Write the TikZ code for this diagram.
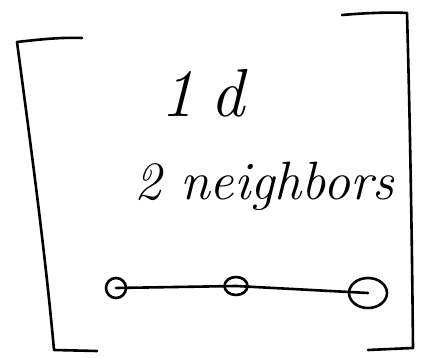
\documentclass[tikz,border=0pt]{standalone}
\usetikzlibrary{shapes.geometric}
\begin{document}
\begin{tikzpicture}[x=1pt,y=-1pt,
  ink/.style={line width=2.6pt,line cap=round,line join=round},
  vert/.style={draw,ink,inner sep=0pt},
  lbl/.style={inner sep=0pt,font=\itshape}]
\useasboundingbox (0,0) rectangle (421,358);
% left bracket
\draw[ink] (82,38) .. controls (60,37) and (35,40) .. (17,42)
  .. controls (30,140) and (45,250) .. (54,350) -- (97,351);
% right bracket
\draw[ink] (342,15) .. controls (365,13) and (390,12) .. (407,13)
  .. controls (410,120) and (412,240) .. (413,348) -- (368,350);
% text
\node[lbl,anchor=base west,font=\itshape\fontsize{68}{72}\selectfont] (t1) at (160,117) {1\kern16pt d};
\node[lbl,anchor=base west,font=\itshape\fontsize{54}{58}\selectfont] (t2) at (134,200) {2 neighbors};
% graph
\node[vert,circle,minimum size=20pt] (n1) at (116,288) {};
\node[vert,ellipse,minimum width=23pt,minimum height=18pt] (n2) at (236,286) {};
\node[vert,ellipse,minimum width=38pt,minimum height=30pt] (n3) at (368,293) {};
\draw[ink] (n1.center) -- (n2.center) -- (n3.center);
\end{tikzpicture}
\end{document}
